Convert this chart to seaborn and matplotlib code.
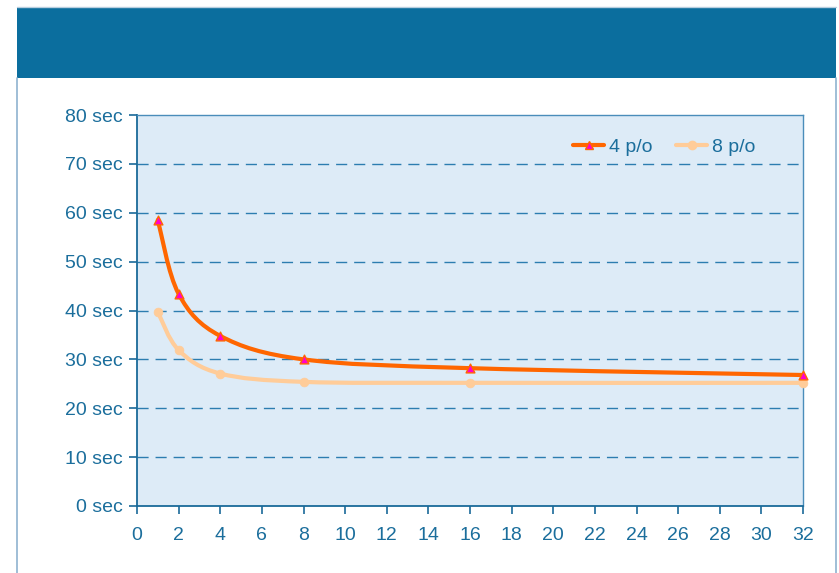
import numpy as np
import matplotlib
matplotlib.use('Agg')
import matplotlib.pyplot as plt
import seaborn as sns
from matplotlib.path import Path
from matplotlib.patches import PathPatch, Rectangle
from matplotlib.lines import Line2D

# data
threads = [1, 2, 4, 8, 16, 32]
time_4po = [58.5, 43.4, 34.8, 30.0, 28.2, 26.8]
time_8po = [39.7, 31.9, 27.1, 25.4, 25.2, 25.2]
series_names = ['4 p/o', '8 p/o']
x_ticks = list(range(0, 33, 2))
y_ticks = list(range(0, 81, 10))
y_labels = [f'{v} sec' for v in y_ticks]

txt_col = '#1B6E9C'
axis_col = '#1A6A99'

sns.set_style('ticks')
plt.rcParams['font.family'] = ['Liberation Sans', 'DejaVu Sans']
plt.rcParams['xtick.bottom'] = True
plt.rcParams['ytick.left'] = True

W, H = 839, 573
fig = plt.figure(figsize=(W / 100, H / 100), dpi=100)
fig.patch.set_facecolor('white')

# header band and panel frame
fig.add_artist(Rectangle((17 / W, 1 - 78 / H), (836 - 17) / W, 71 / H,
                         transform=fig.transFigure, facecolor='#0B6E9E',
                         edgecolor='none', zorder=0))
fig.add_artist(Line2D([17 / W, 17 / W], [0, 1 - 78 / H], transform=fig.transFigure,
                      color='#8FB3D0', lw=1.2))
fig.add_artist(Line2D([836 / W, 836 / W], [0, 1 - 78 / H], transform=fig.transFigure,
                      color='#8FB3D0', lw=1.2))
fig.add_artist(Line2D([17 / W, 836 / W], [1 - 6.5 / H, 1 - 6.5 / H],
                      transform=fig.transFigure, color='#B9CFE0', lw=1))

ax = fig.add_axes([137 / W, (H - 506) / H, (803 - 137) / W, (506 - 115) / H])
ax.set_facecolor('#DDEBF7')


def smooth_path(xs, ys):
    # Excel-style smoothed line: cubic Bezier through every point
    pts = np.column_stack([xs, ys]).astype(float)
    ext = np.vstack([pts[0], pts, pts[-1]])
    verts = [pts[0]]
    codes = [Path.MOVETO]
    for i in range(len(pts) - 1):
        p0, p1, p2, p3 = ext[i], ext[i + 1], ext[i + 2], ext[i + 3]
        verts += [p1 + (p2 - p0) / 6, p2 - (p3 - p1) / 6, p2]
        codes += [Path.CURVE4] * 3
    return Path(verts, codes)


ax.add_patch(PathPatch(smooth_path(threads, time_8po), fill=False,
                       edgecolor='#FFCC99', lw=3, zorder=3, capstyle='round'))
ax.add_patch(PathPatch(smooth_path(threads, time_4po), fill=False,
                       edgecolor='#FF6600', lw=3, zorder=4, capstyle='round'))

sns.scatterplot(x=threads, y=time_8po, ax=ax, marker='o', s=40,
                color='#FFCC99', edgecolor='#FFCC99', zorder=5, clip_on=False)
sns.scatterplot(x=threads, y=time_4po, ax=ax, marker='^', s=40,
                color='#FF00CC', edgecolor='#FF6600', linewidth=1, zorder=6,
                clip_on=False)

ax.set_xlim(0, 32)
ax.set_ylim(0, 80)
ax.set_xticks(x_ticks)
ax.set_yticks(y_ticks)
ax.set_yticklabels(y_labels)
ax.tick_params(axis='both', which='major', direction='out', length=6, width=1.2,
               color=axis_col, labelcolor=txt_col, labelsize=14,
               bottom=True, left=True, top=False, right=False)
ax.tick_params(axis='y', pad=4)
ax.tick_params(axis='x', pad=9)

for yv in y_ticks[1:-1]:
    ax.axhline(yv, color='#2C7DB0', lw=1, ls=(0, (8, 5)), zorder=1)

for side in ['left', 'bottom']:
    ax.spines[side].set_color(axis_col)
    ax.spines[side].set_linewidth(1.3)
for side in ['top', 'right']:
    ax.spines[side].set_color('#4A8DBA')
    ax.spines[side].set_linewidth(1)
    ax.spines[side].set_visible(True)

handles = [
    Line2D([], [], color='#FF6600', lw=3, marker='^', markersize=6,
           markerfacecolor='#FF00CC', markeredgecolor='#FF6600'),
    Line2D([], [], color='#FFCC99', lw=3, marker='o', markersize=6,
           markerfacecolor='#FFCC99', markeredgecolor='#FFCC99'),
]
leg = ax.legend(handles, series_names, loc='upper right', bbox_to_anchor=(0.955, 0.985),
                ncol=2, frameon=False, fontsize=14, handlelength=1.6,
                handletextpad=0.25, columnspacing=1.2)
for t in leg.get_texts():
    t.set_color(txt_col)

fig.savefig('out.png', dpi=100)
